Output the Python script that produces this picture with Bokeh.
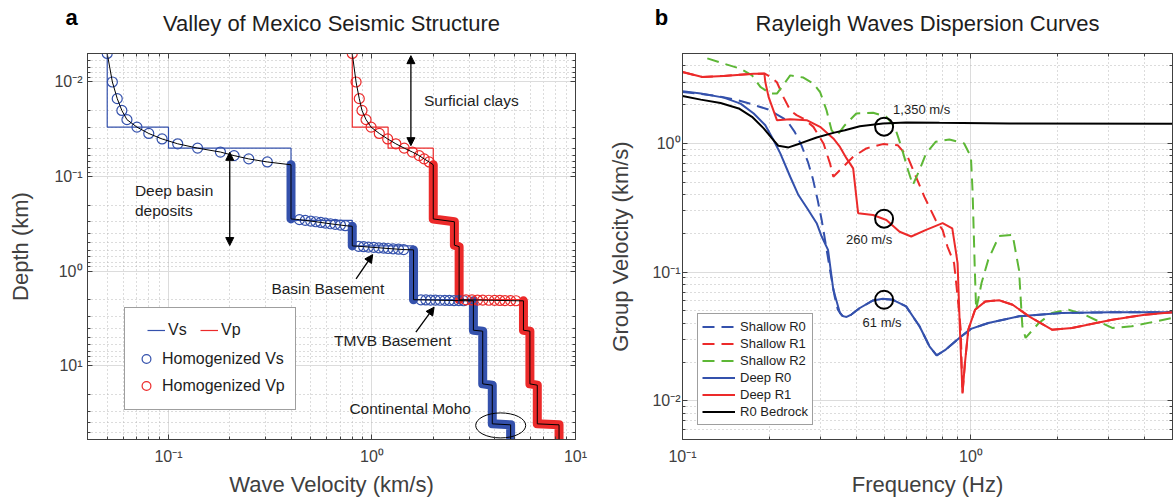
import math
from bokeh.plotting import figure
from bokeh.layouts import row, column
from bokeh.models import (Range1d, FixedTicker, LogAxis, Legend, LegendItem,
                          Arrow, NormalHead)
from bokeh.core.properties import value
from bokeh.embed import file_html
from bokeh.resources import INLINE

FONT = "Liberation Sans"
TXT = "#1e1e1e"
AXC = "#404040"
BLUE = "#3451ac"
RED = "#ec2a2a"
GREEN = "#5db736"

# ---------------- Panel a: Valley of Mexico layered model ----------------
model_top = 0.005                      # km
layer_bottom = [0.03, 0.05, 0.29, 0.54, 2.0, 4.2, 15.5, 41.0, 60.0]   # km
vs_layer = [0.05, 0.1, 0.4, 0.8, 1.6, 3.15, 3.5, 3.9, 4.8]              # km/s
vp_layer = [0.8, 1.2, 2.0, 2.54, 2.68, 5.55, 5.97, 6.49, 8.3]           # km/s

# homogenized profile: shallow gradient zone, one sample every 5 m
grad_depth = [0.005, 0.010, 0.015, 0.020, 0.025, 0.030, 0.035,
              0.040, 0.045, 0.050, 0.055, 0.060, 0.065, 0.070]
grad_vs = [0.05, 0.053, 0.056, 0.059, 0.0625, 0.07, 0.08,
           0.093, 0.111, 0.139, 0.18, 0.21, 0.248, 0.306]
grad_vp = [0.8, 0.835, 0.866, 0.893, 0.935, 0.99, 1.086,
           1.194, 1.31, 1.44, 1.58, 1.706, 1.804, 1.91]

# samples across interfaces that stand apart from each other
t1_depth = [0.285, 0.290, 0.295, 0.300, 0.305, 0.310, 0.315, 0.320, 0.325, 0.330]
t1_vs = [0.44, 0.47, 0.50, 0.53, 0.56, 0.59, 0.625, 0.66, 0.70, 0.74]
t2_depth = [0.545, 0.550, 0.555, 0.560, 0.565, 0.570, 0.575, 0.580, 0.585, 0.590]
t2_vs = [0.86, 0.91, 0.96, 1.02, 1.08, 1.14, 1.20, 1.27, 1.35, 1.43]
t3_depth = [2.005, 2.010, 2.015, 2.020, 2.025, 2.030, 2.035, 2.040, 2.045, 2.050]
t3_vs = [1.74, 1.84, 1.94, 2.05, 2.16, 2.28, 2.40, 2.53, 2.67, 2.82]
t3_vp = [2.9, 3.1, 3.3, 3.5, 3.75, 4.0, 4.25, 4.5, 4.8, 5.1]

# runs where the 5 m samples overlap into a solid band
vs_run1_v, vs_run1_d = [0.4, 0.4], [0.075, 0.28]
vs_run2_v, vs_run2_d = [0.8, 0.8], [0.335, 0.54]
vs_run3_v, vs_run3_d = [1.6, 1.6], [0.595, 2.0]
vs_run4_v = [3.15, 3.15, 3.5, 3.5, 3.9, 3.9, 4.8, 4.8]
vs_run4_d = [2.055, 4.2, 4.3, 15.5, 16.0, 41.0, 42.0, 60.0]
vp_run1_v = [2.0, 2.0, 2.54, 2.54, 2.68, 2.68]
vp_run1_d = [0.075, 0.28, 0.30, 0.53, 0.55, 2.0]
vp_run2_v = [5.55, 5.55, 5.97, 5.97, 6.49, 6.49, 8.3, 8.3]
vp_run2_d = [2.055, 4.2, 4.3, 15.5, 16.0, 41.0, 42.0, 60.0]

# ---------------- Panel b: Rayleigh group-velocity dispersion ----------------
f_deep_r0 = [0.1, 0.1157, 0.1391, 0.1589, 0.1766, 0.1937, 0.207, 0.2183, 0.2363,
             0.2523, 0.273, 0.2919, 0.3038, 0.3196, 0.3334, 0.3515, 0.36, 0.3706,
             0.385, 0.412, 0.4579, 0.4953, 0.5364, 0.5961, 0.6634, 0.7183, 0.7607,
             0.8183, 0.9115, 1.0, 1.15, 1.468, 2.06, 3.06, 5.0]
v_deep_r0 = [2.55, 2.44, 2.27, 2.04, 1.71, 1.386, 1.06, 0.837, 0.551,
             0.397, 0.304, 0.24, 0.189, 0.149, 0.0729, 0.0481, 0.0455, 0.0448,
             0.0468, 0.0526, 0.0602, 0.062, 0.0609, 0.0541, 0.0379, 0.0265, 0.0225,
             0.025, 0.0308, 0.0362, 0.0402, 0.0453, 0.0481, 0.0487, 0.0487]

f_shallow_r0 = [0.1, 0.1157, 0.1355, 0.1527, 0.1721, 0.1984, 0.2295, 0.2449, 0.2583,
                0.2721, 0.2829, 0.2942, 0.3038, 0.312, 0.3246, 0.337, 0.3457, 0.358,
                0.3706, 0.385, 0.412, 0.4579, 0.4953, 0.5364, 0.5961, 0.6634, 0.7183,
                0.7607, 0.8183, 0.9115, 1.0, 1.15, 1.468, 2.06, 3.06, 5.0]
v_shallow_r0 = [2.51, 2.43, 2.31, 2.19, 2.03, 1.835, 1.516, 1.23, 0.97,
                0.72, 0.535, 0.363, 0.254, 0.178, 0.104, 0.0647, 0.051, 0.0457,
                0.0448, 0.0468, 0.0526, 0.0602, 0.062, 0.0609, 0.0541, 0.0379, 0.0265,
                0.0225, 0.025, 0.0308, 0.0362, 0.0402, 0.0453, 0.0481, 0.0487, 0.0487]

f_deep_r1 = [0.1, 0.1172, 0.139, 0.1766, 0.1923, 0.1937, 0.1988, 0.2125, 0.2363,
             0.2695, 0.2999, 0.3334, 0.3515, 0.3706, 0.3906, 0.4064, 0.4579, 0.5092,
             0.566, 0.6209, 0.6992, 0.7976, 0.8617, 0.885, 0.899, 0.916, 0.935,
             0.9537, 0.9795, 1.0338, 1.1226, 1.252, 1.395, 1.59, 1.91, 2.24, 3.09,
             4.01, 5.0]
v_deep_r1 = [3.59, 3.28, 3.35, 3.48, 3.48, 3.0, 2.3, 1.516, 1.543,
             1.516, 1.345, 1.093, 0.94, 0.765, 0.64, 0.287, 0.278, 0.254,
             0.206, 0.189, 0.213, 0.24, 0.219, 0.149, 0.1174, 0.0357, 0.0114,
             0.0197, 0.0357, 0.051, 0.0592, 0.0605, 0.0558, 0.0453, 0.0357, 0.0368, 0.0427,
             0.0467, 0.0487]

f_shallow_r1 = [0.1, 0.1172, 0.139, 0.1766, 0.1923, 0.2016, 0.2125, 0.2241, 0.2363,
                0.2485, 0.2625, 0.2844, 0.3082, 0.3246, 0.3334, 0.3612, 0.3906, 0.4339,
                0.4953, 0.5574, 0.6036, 0.6447, 0.6893, 0.7545, 0.7976, 0.8292, 0.8742,
                0.899, 0.922, 0.935, 0.9537, 0.9795, 1.0338, 1.1226, 1.252, 1.395, 1.59,
                1.91, 2.24, 3.09, 4.01, 5.0]
v_shallow_r1 = [3.59, 3.28, 3.35, 3.48, 3.5, 3.3, 2.99, 2.28, 1.81,
                1.66, 1.56, 1.345, 1.0, 0.70, 0.551, 0.659, 0.787, 0.915,
                0.988, 0.97, 0.787, 0.551, 0.386, 0.254, 0.213, 0.158, 0.1174,
                0.0647, 0.0357, 0.0114, 0.0197, 0.0357, 0.051, 0.0592, 0.0605, 0.0558, 0.0453,
                0.0357, 0.0368, 0.0427, 0.0467, 0.0487]

f_shallow_r2 = [0.1219, 0.1391, 0.1589, 0.1742, 0.1862, 0.2016, 0.2125, 0.2211, 0.2363,
                0.2625, 0.2844, 0.2999, 0.3158, 0.3286, 0.342, 0.3655, 0.4005, 0.4579,
                0.5092, 0.5443, 0.5739, 0.6052, 0.6289, 0.6634, 0.6992, 0.7545, 0.8419,
                0.9474, 1.0, 1.013, 1.027, 1.03, 1.0426, 1.0885, 1.1489, 1.252, 1.395,
                1.468, 1.508, 1.547, 1.72, 1.91, 2.18, 2.48, 3.09, 3.61, 5.0]
v_shallow_r2 = [4.58, 4.17, 3.81, 3.38, 2.75, 2.44, 2.44, 2.75, 3.38,
                3.25, 2.92, 2.51, 1.81, 1.27, 1.139, 1.386, 1.71, 1.73,
                1.61, 1.345, 0.941, 0.621, 0.475, 0.621, 0.837, 1.029, 1.074,
                1.0, 0.787, 0.435, 0.149, 0.1174, 0.051, 0.0822, 0.125, 0.191, 0.195,
                0.104, 0.0379, 0.0308, 0.0402, 0.0481, 0.051, 0.0467, 0.0368, 0.0379, 0.044]

f_bedrock = [0.1, 0.1157, 0.1355, 0.1567, 0.1742, 0.1912, 0.2043, 0.2151, 0.2332,
             0.2558, 0.2919, 0.3333, 0.3655, 0.412, 0.4953, 0.5963, 0.778, 1.36, 5.0]
v_bedrock = [2.34, 2.19, 2.06, 1.87, 1.61, 1.31, 1.093, 0.958, 0.931,
             1.0, 1.113, 1.208, 1.268, 1.362, 1.43, 1.455, 1.445, 1.43, 1.42]

marker_freq = [0.5, 0.5, 0.5]
marker_vel = [1.35, 0.26, 0.061]          # km/s
marker_text = ["1,350 m/s", "260 m/s", "61 m/s"]

panel_titles = ["Valley of Mexico Seismic Structure", "Rayleigh Waves Dispersion Curves"]
panel_letters = ["a", "b"]

SUP = {0.01: "10⁻²", 0.1: "10⁻¹", 1: "10⁰", 10: "10¹"}


def minor_ticks(lo_exp, hi_exp):
    return [m * 10.0 ** e for e in range(lo_exp, hi_exp) for m in range(2, 10)]


def steps(vel, bottoms, top):
    xs, ys, d0 = [], [], top
    for v, d in zip(vel, bottoms):
        xs += [v, v]
        ys += [d0, d]
        d0 = d
    return xs, ys


def dress(p, xmaj, xmin, ymaj, ymin, xlabel, ylabel, ystandoff, ylab_standoff):
    xt = FixedTicker(ticks=xmaj, minor_ticks=xmin)
    yt = FixedTicker(ticks=ymaj, minor_ticks=ymin)
    bottom, left = p.below[0], p.left[0]
    bottom.ticker = xt
    left.ticker = yt
    p.xgrid.ticker = xt
    p.ygrid.ticker = yt
    for g in (p.xgrid[0], p.ygrid[0]):
        g.grid_line_color = "#dcdcdc"
        g.grid_line_width = 1
        g.minor_grid_line_color = "#b9b9b9"
        g.minor_grid_line_dash = "1 3"
        g.minor_grid_line_width = 1
    bottom.major_label_overrides = {t: SUP[t] for t in xmaj}
    left.major_label_overrides = {t: SUP[t] for t in ymaj}
    bottom.axis_label = xlabel
    left.axis_label = ylabel
    top = LogAxis(ticker=xt, major_label_text_font_size="1px",
                  major_label_text_alpha=0, major_label_standoff=0)
    right = LogAxis(ticker=yt, major_label_text_font_size="1px",
                    major_label_text_alpha=0, major_label_standoff=0)
    p.add_layout(top, "above")
    p.add_layout(right, "right")
    for ax in (bottom, left, top, right):
        ax.axis_line_color = AXC
        ax.axis_line_width = 1
        ax.major_tick_line_color = AXC
        ax.minor_tick_line_color = AXC
        ax.major_tick_in, ax.major_tick_out = 5, 0
        ax.minor_tick_in, ax.minor_tick_out = 3, 0
    for ax in (bottom, left):
        ax.major_label_text_font = FONT
        ax.major_label_text_font_size = "16px"
        ax.major_label_text_color = AXC
        ax.axis_label_text_font = FONT
        ax.axis_label_text_font_size = "22px"
        ax.axis_label_text_font_style = "normal"
        ax.axis_label_text_color = AXC
    bottom.major_label_standoff = 8
    bottom.axis_label_standoff = 4
    left.major_label_standoff = ystandoff
    left.axis_label_standoff = ylab_standoff
    p.outline_line_color = AXC
    p.outline_line_width = 1


# ======================= header strip with panel titles =======================
head_fig = figure(width=1173, height=50, x_range=Range1d(0, 1173), y_range=Range1d(0, 50),
                  output_backend="svg", toolbar_location=None, min_border=0,
                  x_axis_location=None, y_axis_location=None, outline_line_color=None)
head_fig.grid.visible = False
head_fig.text(x=[331, 927], y=[27, 27], text=panel_titles, text_align="center",
              text_baseline="middle", text_font=value(FONT), text_font_size="22px",
              text_color=TXT)
head_fig.text(x=[71, 661], y=[33, 33], text=panel_letters, text_align="center",
              text_baseline="middle", text_font=value(FONT), text_font_size="22px",
              text_font_style="bold", text_color="black")

# ======================= panel a =======================
p1 = figure(width=600, height=454, x_axis_type="log", y_axis_type="log",
            x_range=Range1d(0.04, 10), y_range=Range1d(60, 0.005),
            output_backend="svg", toolbar_location=None,
            min_border_left=87, min_border_right=25, min_border_top=3,
            min_border_bottom=64)
dress(p1, [0.1, 1, 10], minor_ticks(-2, 1), [0.01, 0.1, 1, 10], minor_ticks(-3, 2),
      "Wave Velocity (km/s)", "Depth (km)", 5, 18)

sx, sy = steps(vs_layer, layer_bottom, model_top)
px, py = steps(vp_layer, layer_bottom, model_top)
r_vs_step = p1.line(sx, sy, line_color=BLUE, line_width=1.2)
r_vp_step = p1.line(px, py, line_color=RED, line_width=1.2)

for xs, ys, c in ((vs_run1_v, vs_run1_d, BLUE), (vs_run2_v, vs_run2_d, BLUE),
                  (vs_run3_v, vs_run3_d, BLUE), (vs_run4_v, vs_run4_d, BLUE),
                  (vp_run1_v, vp_run1_d, RED), (vp_run2_v, vp_run2_d, RED)):
    p1.line(xs, ys, line_color=c, line_width=9, line_join="round", line_cap="round")

vs_sparse_v = grad_vs + t1_vs + t2_vs + t3_vs
vs_sparse_d = grad_depth + t1_depth + t2_depth + t3_depth
vp_sparse_v = grad_vp + t3_vp
vp_sparse_d = grad_depth + t3_depth
r_vs_hom = p1.scatter(vs_sparse_v, vs_sparse_d, marker="circle", size=10, fill_color=None,
                      line_color=BLUE, line_width=1.2)
r_vp_hom = p1.scatter(vp_sparse_v, vp_sparse_d, marker="circle", size=10, fill_color=None,
                      line_color=RED, line_width=1.2)

# smoothed (homogenized) profiles through all samples
vs_path_v = grad_vs + vs_run1_v + t1_vs + vs_run2_v + t2_vs + vs_run3_v + t3_vs + vs_run4_v
vs_path_d = grad_depth + vs_run1_d + t1_depth + vs_run2_d + t2_depth + vs_run3_d + t3_depth + vs_run4_d
vp_path_v = grad_vp + vp_run1_v + t3_vp + vp_run2_v
vp_path_d = grad_depth + vp_run1_d + t3_depth + vp_run2_d
p1.line(vs_path_v, vs_path_d, line_color="black", line_width=1)
p1.line(vp_path_v, vp_path_d, line_color="black", line_width=1)


def head():
    return NormalHead(size=8, fill_color="black", line_color="black")


p1.add_layout(Arrow(start=head(), end=head(), x_start=1.553, y_start=0.00527,
                    x_end=1.553, y_end=0.0471, line_width=1.3))
p1.add_layout(Arrow(start=head(), end=head(), x_start=0.2, y_start=0.0554,
                    x_end=0.2, y_end=0.535, line_width=1.3))
p1.add_layout(Arrow(end=head(), x_start=0.835, y_start=1.203, x_end=1.008, y_end=0.667,
                    line_width=1.3))
p1.add_layout(Arrow(end=head(), x_start=1.643, y_start=4.41, x_end=2.02, y_end=2.40,
                    line_width=1.3))
p1.ellipse(x=[4.29], y=[42.6], width=50, height=25, width_units="screen",
           height_units="screen", fill_color=None, line_color="black", line_width=1)

ann_font = dict(text_font=value(FONT), text_font_size="15.5px", text_color=TXT,
                text_baseline="middle")
p1.text(x=[1.80], y=[0.0157], text=["Surficial clays"], text_align="left", **ann_font)
p1.text(x=[0.0684], y=[0.179], text=["Deep basin\ndeposits"], text_align="left",
        text_line_height=1.15, **ann_font)
p1.text(x=[1.149], y=[1.535], text=["Basin Basement"], text_align="right", **ann_font)
p1.text(x=[1.263], y=[5.39], text=["TMVB Basement"], text_align="center", **ann_font)
p1.text(x=[1.54], y=[28.4], text=["Continental Moho"], text_align="center", **ann_font)

blank = p1.line(x=[], y=[], line_alpha=0)
leg_b = Legend(items=[LegendItem(label=" ", renderers=[blank]),
                      LegendItem(label="Homogenized Vs", renderers=[r_vs_hom]),
                      LegendItem(label="Homogenized Vp", renderers=[r_vp_hom])],
               location=(37, 29), orientation="vertical",
               glyph_width=22, glyph_height=27, label_height=27, label_standoff=5,
               spacing=0, padding=10, margin=0,
               label_text_font=FONT, label_text_font_size="16px", label_text_color=TXT,
               border_line_color=AXC, border_line_width=1,
               background_fill_color="white", background_fill_alpha=1)
leg_a = Legend(items=[LegendItem(label="Vs", renderers=[r_vs_step]),
                      LegendItem(label="Vp", renderers=[r_vp_step])],
               location=(60, 99), orientation="horizontal",
               glyph_width=18, glyph_height=20, label_height=20, label_standoff=3,
               spacing=12, padding=0, margin=0,
               label_text_font=FONT, label_text_font_size="16px", label_text_color=TXT,
               border_line_color=None, background_fill_alpha=0)
p1.add_layout(leg_b, "center")
p1.add_layout(leg_a, "center")

# ======================= panel b =======================
p2 = figure(width=573, height=454, x_axis_type="log", y_axis_type="log",
            x_range=Range1d(0.1, 5), y_range=Range1d(0.005, 5),
            output_backend="svg", toolbar_location=None,
            min_border_left=82, min_border_right=1, min_border_top=3,
            min_border_bottom=65)
dress(p2, [0.1, 1], minor_ticks(-1, 1), [0.01, 0.1, 1], minor_ticks(-3, 1),
      "Frequency (Hz)", "Group Velocity (km/s)", 2, 16)

DASH = "12 7"
r_s0 = p2.line(f_shallow_r0, v_shallow_r0, line_color=BLUE, line_width=2, line_dash=DASH)
r_s1 = p2.line(f_shallow_r1, v_shallow_r1, line_color=RED, line_width=2, line_dash=DASH)
r_s2 = p2.line(f_shallow_r2, v_shallow_r2, line_color=GREEN, line_width=2, line_dash=DASH)
r_d0 = p2.line(f_deep_r0, v_deep_r0, line_color=BLUE, line_width=2)
r_d1 = p2.line(f_deep_r1, v_deep_r1, line_color=RED, line_width=2)
r_bd = p2.line(f_bedrock, v_bedrock, line_color="black", line_width=2)

p2.scatter(marker_freq, marker_vel, marker="circle", size=18, fill_color=None,
           line_color="black", line_width=2)
lab_font = dict(text_font=value(FONT), text_font_size="13px", text_color=TXT,
                text_baseline="middle")
p2.text(x=marker_freq[:1], y=marker_vel[:1], text=marker_text[:1], text_align="left",
        x_offset=9, y_offset=-17, **lab_font)
p2.text(x=marker_freq[1:2], y=marker_vel[1:2], text=marker_text[1:2], text_align="center",
        x_offset=-15, y_offset=21, **lab_font)
p2.text(x=marker_freq[2:], y=marker_vel[2:], text=marker_text[2:], text_align="center",
        x_offset=-2, y_offset=23, **lab_font)

leg2 = Legend(items=[LegendItem(label="Shallow R0", renderers=[r_s0]),
                     LegendItem(label="Shallow R1", renderers=[r_s1]),
                     LegendItem(label="Shallow R2", renderers=[r_s2]),
                     LegendItem(label="Deep R0", renderers=[r_d0]),
                     LegendItem(label="Deep R1", renderers=[r_d1]),
                     LegendItem(label="R0 Bedrock", renderers=[r_bd])],
              location=(15, 14), orientation="vertical",
              glyph_width=33, glyph_height=17, label_height=17, label_standoff=5,
              spacing=0, padding=4, margin=0,
              label_text_font=FONT, label_text_font_size="13px", label_text_color=TXT,
              border_line_color=AXC, border_line_width=1,
              background_fill_color="white", background_fill_alpha=1)
p2.add_layout(leg2, "center")

layout = column(head_fig, row(p1, p2))
open("out.html", "w").write(file_html(layout, INLINE))
